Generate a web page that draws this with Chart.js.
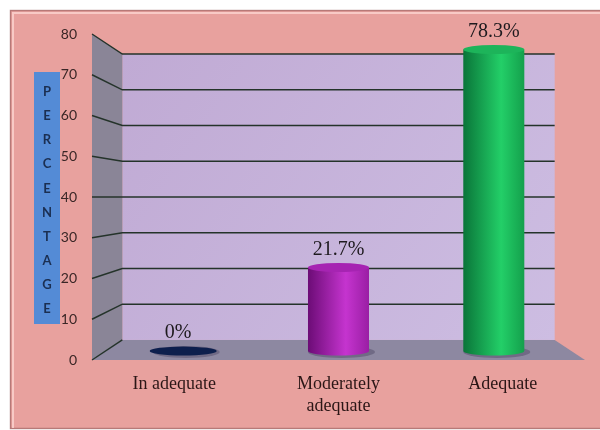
<!DOCTYPE html>
<html>
<head>
<meta charset="utf-8">
<script src="https://cdn.jsdelivr.net/npm/chart.js@4/dist/chart.umd.min.js"></script>
<style>
  html, body { margin: 0; padding: 0; background: #ffffff; }
  #wrap { width: 600px; height: 430px; }
</style>
</head>
<body>
<div id="wrap"><canvas id="chart" width="600" height="430"></canvas></div>
<script>
(function(){
  // categories and values
  const categories = ['In adequate', ['Moderately', 'adequate'], 'Adequate'];
  const percentValues = [0, 21.7, 78.3];
  const axisMin = 0;
  const axisMax = 80;
  const axisStep = 10;
  const axisTitleLetters = ['P', 'E', 'R', 'C', 'E', 'N', 'T', 'A', 'G', 'E'];

  // cylinder shading per bar: [shadow side, highlight, rim, cap]
  const cylinderShades = [
    ['#0b1c4a', '#0b1c4a', '#0b1c4a', '#0d1f4d'],
    ['#6c0c76', '#c534cf', '#9a1ea4', '#a624b2'],
    ['#0a7539', '#23cf68', '#14a04c', '#1db45a']
  ];

  const BACK_DEPTH = 0.877;   // scale of the back wall toward the centre
  const BAR_DEPTH = 0.945;    // bars stand halfway into the floor

  function project(area, x, y, k) {
    const cx = (area.left + area.right) / 2;
    const cy = (area.top + area.bottom) / 2;
    return [cx + (x - cx) * k, cy + (y - cy) * k];
  }

  const panelPlugin = {
    id: 'panel',
    beforeDraw(chart) {
      const ctx = chart.ctx;
      ctx.save();
      ctx.fillStyle = '#ffffff';
      ctx.fillRect(0, 0, chart.width, chart.height);
      ctx.fillStyle = '#e8a19e';
      ctx.fillRect(10, 10, chart.width - 10, chart.height - 11);
      ctx.strokeStyle = 'rgba(150,95,95,0.6)';
      ctx.lineWidth = 1.5;
      ctx.strokeRect(10.5, 10.5, chart.width, chart.height - 12);
      ctx.strokeStyle = 'rgba(255,220,215,0.7)';
      ctx.lineWidth = 2;
      ctx.beginPath();
      ctx.moveTo(12, 13); ctx.lineTo(chart.width, 13);
      ctx.moveTo(13, 12); ctx.lineTo(13, chart.height - 2);
      ctx.stroke();

      // vertical axis title box
      ctx.fillStyle = '#548bd6';
      ctx.fillRect(34, 72, 26, 252);
      ctx.fillStyle = '#1b2f52';
      ctx.font = 'bold 13px Lato, "Open Sans", sans-serif';
      ctx.textAlign = 'center';
      ctx.textBaseline = 'middle';
      axisTitleLetters.forEach((ch, i) => {
        ctx.fillText(ch, 47, 92 + i * 24.1);
      });
      ctx.restore();
    }
  };

  const wallsPlugin = {
    id: 'walls',
    beforeDatasetsDraw(chart) {
      const ctx = chart.ctx;
      const a = chart.chartArea;
      const yScale = chart.scales.y;
      const [bl, bt] = project(a, a.left, a.top, BACK_DEPTH);
      const [br, bb] = project(a, a.right, a.bottom, BACK_DEPTH);
      ctx.save();

      // back wall
      const g = ctx.createLinearGradient(bl, bt, br, bb);
      g.addColorStop(0, '#c0aad4');
      g.addColorStop(1, '#cdbde2');
      ctx.fillStyle = g;
      ctx.fillRect(bl, bt, br - bl, bb - bt);

      // side wall
      ctx.fillStyle = '#8a8597';
      ctx.beginPath();
      ctx.moveTo(a.left, a.top);
      ctx.lineTo(bl, bt);
      ctx.lineTo(bl, bb);
      ctx.lineTo(a.left, a.bottom);
      ctx.closePath();
      ctx.fill();

      // floor
      ctx.fillStyle = '#8d88a1';
      ctx.beginPath();
      ctx.moveTo(a.left, a.bottom);
      ctx.lineTo(a.right, a.bottom);
      ctx.lineTo(br, bb);
      ctx.lineTo(bl, bb);
      ctx.closePath();
      ctx.fill();

      // grid lines on the side and back walls
      ctx.strokeStyle = '#24332a';
      ctx.lineWidth = 1.4;
      yScale.ticks.forEach(t => {
        const yf = yScale.getPixelForValue(t.value);
        const [px, py] = project(a, a.left, yf, BACK_DEPTH);
        ctx.beginPath();
        ctx.moveTo(a.left, yf);
        ctx.lineTo(px, py);
        if (t.value > axisMin) ctx.lineTo(br, py);
        ctx.stroke();
      });
      ctx.restore();
    }
  };

  const cylinderPlugin = {
    id: 'cylinders',
    afterDatasetsDraw(chart) {
      const ctx = chart.ctx;
      const a = chart.chartArea;
      const meta = chart.getDatasetMeta(0);
      ctx.save();
      meta.data.forEach((bar, i) => {
        const shade = cylinderShades[i];
        const [x, top] = project(a, bar.x, bar.y, BAR_DEPTH);
        const [, bottom] = project(a, bar.x, bar.base, BAR_DEPTH);
        const w = bar.width * BAR_DEPTH;
        const rx = w / 2;
        const ry = 4.5;

        // soft shadow on the floor
        ctx.fillStyle = 'rgba(45,35,70,0.3)';
        ctx.beginPath();
        ctx.ellipse(x + 3, bottom + 1, rx + 3, ry + 1.5, 0, 0, Math.PI * 2);
        ctx.fill();

        if (bottom - top < 1) {
          ctx.fillStyle = shade[3];
          ctx.beginPath();
          ctx.ellipse(x, bottom, rx + 3, ry, 0, 0, Math.PI * 2);
          ctx.fill();
        } else {
          const g = ctx.createLinearGradient(x - rx, 0, x + rx, 0);
          g.addColorStop(0, shade[0]);
          g.addColorStop(0.62, shade[1]);
          g.addColorStop(1, shade[2]);
          ctx.fillStyle = g;
          ctx.beginPath();
          ctx.moveTo(x - rx, top);
          ctx.lineTo(x - rx, bottom);
          ctx.ellipse(x, bottom, rx, ry, 0, Math.PI, 0, true);
          ctx.lineTo(x + rx, top);
          ctx.closePath();
          ctx.fill();
          ctx.fillStyle = shade[3];
          ctx.beginPath();
          ctx.ellipse(x, top, rx, ry, 0, 0, Math.PI * 2);
          ctx.fill();
        }

        // value label
        ctx.fillStyle = '#1e1a1e';
        ctx.font = '20px "Liberation Serif", "Times New Roman", serif';
        ctx.textAlign = 'center';
        ctx.textBaseline = 'middle';
        ctx.fillText(percentValues[i] + '%', x - (i === 0 ? 5 : 0), top - 18);
      });
      ctx.restore();
    }
  };

  new Chart(document.getElementById('chart'), {
    type: 'bar',
    data: {
      labels: categories,
      datasets: [{
        data: percentValues,
        backgroundColor: 'rgba(0,0,0,0)',
        borderWidth: 0,
        barPercentage: 0.393,
        categoryPercentage: 1
      }]
    },
    options: {
      responsive: false,
      animation: false,
      layout: { padding: { left: 10, top: 34, right: 15, bottom: 0 } },
      plugins: {
        legend: { display: false },
        tooltip: { enabled: false }
      },
      scales: {
        x: {
          grid: { display: false, drawTicks: false },
          border: { display: false },
          ticks: {
            padding: 13,
            color: '#2b1616',
            font: { family: '"Liberation Serif", "Times New Roman", serif', size: 18, lineHeight: 1.25 }
          },
          afterFit(scale) { scale.height = 70; }
        },
        y: {
          min: axisMin,
          max: axisMax,
          grid: { display: false, drawTicks: false },
          border: { display: false },
          ticks: {
            stepSize: axisStep,
            padding: 15,
            color: '#3a2626',
            font: { family: 'Lato, "Open Sans", sans-serif', size: 14 }
          },
          afterFit(scale) { scale.width = 82; }
        }
      }
    },
    plugins: [panelPlugin, wallsPlugin, cylinderPlugin]
  });
})();
</script>
</body>
</html>
